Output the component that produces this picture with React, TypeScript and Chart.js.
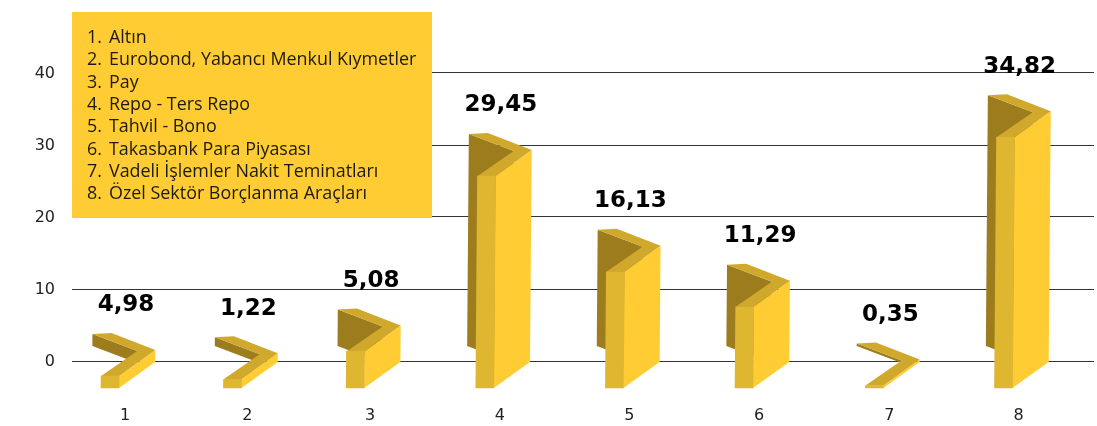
import React, { useEffect, useRef } from "react";
import { Chart, registerables } from "chart.js";

Chart.register(...registerables);

const categories = ["1", "2", "3", "4", "5", "6", "7", "8"];
// Horizontal slots of the bars (spacing is not even in the reference).
const slots = [1, 1.942, 2.886, 3.883, 4.88, 5.877, 6.88, 7.873];
// Bar heights as drawn in the picture, in axis units.
const drawnValues = [1.67, 1.22, 5.08, 29.45, 16.13, 11.29, 0.35, 34.82];
const valueLabels = ["4,98", "1,22", "5,08", "29,45", "16,13", "11,29", "0,35", "34,82"];
const yTicks = [0, 10, 20, 30, 40];
const legendItems = [
  "Altın",
  "Eurobond, Yabancı Menkul Kıymetler",
  "Pay",
  "Repo - Ters Repo",
  "Tahvil - Bono",
  "Takasbank Para Piyasası",
  "Vadeli İşlemler Nakit Teminatları",
  "Özel Sektör Borçlanma Araçları",
];

const BAR_FLOOR = -3.75;
const FRONT = "#DFB62F";
const SIDE = "#FFCD33";
const TOP = "#CFA82C";
const DARK = "#9C7C1C";
const SHEAR = 0.008;
const TICK_FONT = { family: "'DejaVu Sans'", size: 16 };

function poly(ctx: CanvasRenderingContext2D, color: string, pts: number[][]) {
  ctx.fillStyle = color;
  ctx.beginPath();
  pts.forEach((p, i) => (i ? ctx.lineTo(p[0], p[1]) : ctx.moveTo(p[0], p[1])));
  ctx.closePath();
  ctx.fill();
}

function barBox(bar: any) {
  const { x, y, base, width } = bar.getProps(["x", "y", "base", "width"], true);
  return { x, width, top: Math.min(y, base), bottom: Math.max(y, base) };
}

const shape3d = {
  id: "shape3d",
  beforeDatasetsDraw(chart: any) {
    const ctx = chart.ctx;
    const bars = chart.getDatasetMeta(0).data;
    const groundY = chart.scales.y.getPixelForValue(BAR_FLOOR);
    ctx.save();
    // the picture's bars lean very slightly to the right as they rise
    ctx.transform(1, 0, -SHEAR, 1, SHEAR * groundY, 0);
    bars.forEach((bar: any) => {
      const { x, width, top: y, bottom } = barBox(bar);
      const l = x - width / 2;
      const r = x + width / 2;
      const h = bottom - y;
      const A = [l - 9, y - 42];
      const B = [l + 10, y - 43];
      const C = [l + 54, y - 26];
      const F = [l + 36, y - 25];
      // back wall
      poly(ctx, DARK, [A, F, [F[0], F[1] + h], [A[0], A[1] + h]]);
      // right face
      poly(ctx, SIDE, [[r, y], C, [C[0], C[1] + h], [r, y + h]]);
      // top chevron
      poly(ctx, TOP, [A, B, C, [r, y], [l, y], F]);
    });
  },
  afterDatasetsDraw(chart: any) {
    const ctx = chart.ctx;
    ctx.restore();
    const bars = chart.getDatasetMeta(0).data;
    ctx.save();
    ctx.fillStyle = "#000";
    ctx.font = "bold 23px 'DejaVu Sans'";
    ctx.textAlign = "center";
    ctx.textBaseline = "alphabetic";
    bars.forEach((bar: any, i: number) => {
      const { x, top } = barBox(bar);
      ctx.fillText(valueLabels[i], x + 16, top - 64.5);
    });
    ctx.restore();
  },
};

const legendBox = {
  id: "legendBox",
  afterDraw(chart: any) {
    const ctx = chart.ctx;
    ctx.save();
    ctx.fillStyle = "#FFCC33";
    ctx.fillRect(72, 12, 360, 206);
    ctx.fillStyle = "#1c1a10";
    ctx.font = "17.9px 'Open Sans'";
    ctx.textAlign = "left";
    ctx.textBaseline = "middle";
    legendItems.forEach((item, i) => {
      const y = 38 + i * 22.3;
      ctx.fillText(`${i + 1}.`, 87, y);
      ctx.fillText(item, 109, y);
    });
    ctx.restore();
  },
};

export default function App() {
  const ref = useRef<HTMLCanvasElement>(null);
  useEffect(() => {
    const chart = new Chart(ref.current as HTMLCanvasElement, {
      type: "bar",
      data: {
        labels: categories,
        datasets: [
          {
            data: drawnValues.map((v, i) => ({ x: slots[i], y: [BAR_FLOOR, BAR_FLOOR + v] })),
            backgroundColor: FRONT,
            borderWidth: 0,
            barThickness: 18,
          },
        ],
      } as any,
      options: {
        responsive: false,
        animation: false,
        layout: { padding: { top: 1, right: 3, left: 0, bottom: 0 } },
        plugins: { legend: { display: false }, tooltip: { enabled: false } },
        scales: {
          x: {
            type: "linear",
            offset: false,
            min: 0.7077,
            max: 8.569,
            grid: { display: false, drawTicks: false },
            border: { display: false },
            afterBuildTicks(scale: any) {
              scale.ticks = slots.map((value) => ({ value }));
            },
            afterFit(scale: any) {
              scale.height = 29;
              scale.paddingLeft = 0;
              scale.paddingRight = 0;
            },
            ticks: {
              autoSkip: false,
              maxRotation: 0,
              padding: 9,
              labelOffset: 15,
              color: "#222",
              font: TICK_FONT,
              callback: (_v: any, i: number) => categories[i],
            },
          },
          y: {
            type: "linear",
            min: -5,
            max: 50,
            border: { display: false },
            grid: { color: "#333", lineWidth: 1, drawTicks: false },
            afterBuildTicks(scale: any) {
              scale.ticks = yTicks.map((value) => ({ value }));
            },
            afterFit(scale: any) {
              scale.width = 72;
              scale.paddingTop = 0;
              scale.paddingBottom = 0;
            },
            ticks: {
              padding: 17,
              labelOffset: 1,
              color: "#222",
              font: TICK_FONT,
            },
          },
        },
      },
      plugins: [shape3d, legendBox],
    } as any);
    return () => chart.destroy();
  }, []);
  return (
    <div style={{ position: "absolute", left: 0, top: 0, width: 1097, height: 426, background: "#fff" }}>
      <canvas ref={ref} width={1097} height={426} style={{ display: "block" }} />
    </div>
  );
}
